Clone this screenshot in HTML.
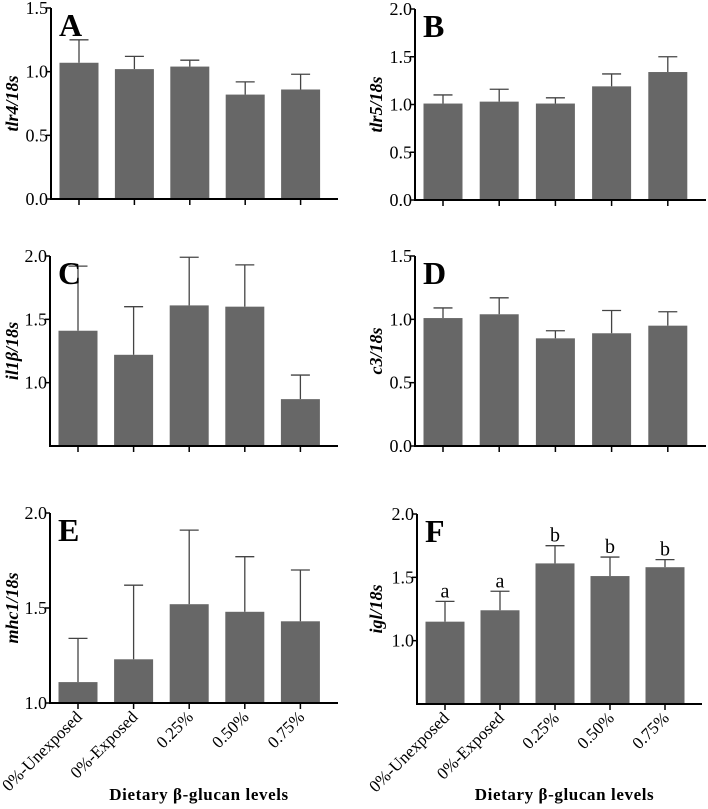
<!DOCTYPE html>
<html><head><meta charset="utf-8"><style>
html,body{margin:0;padding:0;background:#fff;}
svg{display:block;font-family:"Liberation Serif",serif;}
</style></head><body>
<svg id="fig" width="708" height="809" viewBox="0 0 708 809"></svg>
<script>
const categories = ["0%-Unexposed","0%-Exposed","0.25%","0.50%","0.75%"];
const meanA = [1.07,1.02,1.04,0.82,0.86];
const errA  = [1.25,1.12,1.09,0.92,0.98];
const meanB = [1.01,1.03,1.01,1.19,1.34];
const errB  = [1.10,1.16,1.07,1.32,1.50];
const meanC = [1.41,1.22,1.61,1.60,0.87];
const errC  = [1.92,1.60,1.99,1.93,1.06];
const meanD = [1.01,1.04,0.85,0.89,0.95];
const errD  = [1.09,1.17,0.91,1.07,1.06];
const meanE = [1.11,1.23,1.52,1.48,1.43];
const errE  = [1.34,1.62,1.91,1.77,1.70];
const meanF = [1.15,1.24,1.61,1.51,1.58];
const errF  = [1.31,1.39,1.75,1.66,1.64];
const lettersF = ["a","a","b","b","b"];
const ticksA = [0,0.5,1.0,1.5];
const ticksB = [0,0.5,1.0,1.5,2.0];
const ticksC = [1.0,1.5,2.0];
const ticksD = [0,0.5,1.0,1.5];
const ticksE = [1.0,1.5,2.0];
const ticksF = [1.0,1.5,2.0];
const NS="http://www.w3.org/2000/svg";
const svg=document.getElementById('fig');
function mk(tag,attrs,parent){const e=document.createElementNS(NS,tag);for(const k in attrs)e.setAttribute(k,attrs[k]);(parent||svg).appendChild(e);return e;}

function panel(p){
  const g=mk('g',{});
  
  
  const y=v=>p.y1-(v-p.ymin)/(p.ymax-p.ymin)*(p.y1-p.y0);
  const step=(p.xr-p.x0-10)/5;
  const cx=i=>p.x0+28+i*step;
  p.mean.forEach((m,i)=>{
    const ey=y(p.err[i]);
    const l=mk('line',{x1:cx(i),x2:cx(i),y1:y(m),y2:ey,stroke:'#444','stroke-width':1.3},g);
    
    
    mk('line',{x1:cx(i)-9.5,x2:cx(i)+9.5,y1:ey,y2:ey,stroke:'#444','stroke-width':1.3},g);
    const r=mk('rect',{x:cx(i)-19.5,y:y(m),width:39,height:p.y1-y(m),fill:'#676767'},g);
    
    
    if(p.sig){const t=mk('text',{x:cx(i),y:ey-4,'text-anchor':'middle','font-size':20},g);t.textContent=p.sig[i];
      
      }
  });
  const ya=mk('line',{x1:p.x0,x2:p.x0,y1:p.y0,y2:p.y1+1,stroke:'#000','stroke-width':2},g);
  
  
  const xa=mk('line',{x1:p.x0-1,x2:p.xr,y1:p.y1,y2:p.y1,stroke:'#000','stroke-width':2},g);
  
  
  p.ticks.forEach(t=>{
    mk('line',{x1:p.x0-5,x2:p.x0,y1:y(t),y2:y(t),stroke:'#000','stroke-width':1.5},g);
    const tx=mk('text',{x:p.x0-3,y:y(t)+6,'text-anchor':'end','font-size':18},g);
    tx.textContent=t.toFixed(1);
    
    
  });
  categories.forEach((c,i)=>{
    mk('line',{x1:cx(i),x2:cx(i),y1:p.y1,y2:p.y1+6,stroke:'#000','stroke-width':1.5},g);
    if(p.xlabels){
      const t=mk('text',{x:cx(i)+5,y:p.y1+15,'text-anchor':'end','font-size':17,transform:`rotate(-45 ${cx(i)+5} ${p.y1+15})`},g);
      t.textContent=c;
      
      
    }
  });
  const L=mk('text',{x:p.x0+8,y:p.y0+28,'font-size':32,'font-weight':'bold'},g);
  L.textContent=p.letter;
  
  
  const yt=(p.y0+p.y1)/2;
  const T=mk('text',{x:p.ylx,y:yt,'text-anchor':'middle','font-size':18,'font-weight':'bold','font-style':'italic',transform:`rotate(-90 ${p.ylx} ${yt})`},g);
  T.textContent=p.ytitle;
  
  
  if(p.xlabels){
    const X=mk('text',{x:(p.x0+p.xr)/2+5,y:800,'text-anchor':'middle','font-size':17,'font-weight':'bold','letter-spacing':'0.6'},g);
    X.textContent='Dietary β-glucan levels';
    
    
  }
}
panel({letter:'A',x0:51,xr:338,y0:8,y1:199,ymin:0,ymax:1.5,ticks:ticksA,mean:meanA,err:errA,ytitle:'tlr4/18s',ylx:18});
panel({letter:'B',x0:415,xr:706,y0:9,y1:200,ymin:0,ymax:2.0,ticks:ticksB,mean:meanB,err:errB,ytitle:'tlr5/18s',ylx:382});
panel({letter:'C',x0:50,xr:338,y0:256,y1:446,ymin:0.5,ymax:2.0,ticks:ticksC,mean:meanC,err:errC,ytitle:'il1β/18s',ylx:18});
panel({letter:'D',x0:415,xr:706,y0:256,y1:446,ymin:0,ymax:1.5,ticks:ticksD,mean:meanD,err:errD,ytitle:'c3/18s',ylx:382});
panel({letter:'E',x0:50,xr:338,y0:513,y1:703,ymin:1.0,ymax:2.0,ticks:ticksE,mean:meanE,err:errE,ytitle:'mhc1/18s',ylx:18,xlabels:true});
panel({letter:'F',x0:417,xr:702,y0:514,y1:704,ymin:0.5,ymax:2.0,ticks:ticksF,mean:meanF,err:errF,ytitle:'igl/18s',ylx:382,xlabels:true,sig:lettersF});
</script>
</body></html>
